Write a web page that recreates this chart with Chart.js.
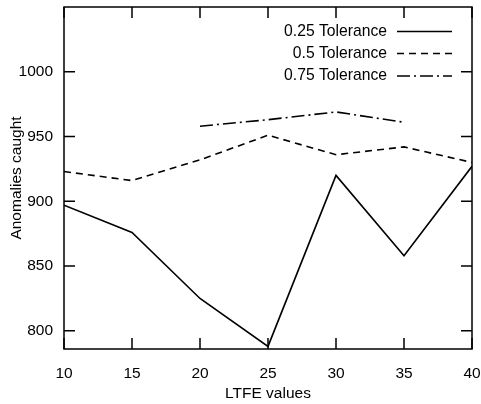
<!DOCTYPE html>
<html>
<head>
<meta charset="utf-8">
<script src="https://cdn.jsdelivr.net/npm/chart.js@4/dist/chart.umd.min.js"></script>
<style>
  html, body { margin: 0; padding: 0; background: #fff; }
  #wrap { width: 481px; height: 404px; }
</style>
</head>
<body>
<div id="wrap"><canvas id="chart" width="481" height="404"></canvas></div>
<script>
// LTFE values on the x axis
const ltfe = [10, 15, 20, 25, 30, 35, 40];
const ltfeShort = [20, 25, 30, 35];

// anomalies caught per tolerance
const tol025 = [897, 876, 825, 788, 920, 858, 927];
const tol050 = [923, 916, 932, 951, 936, 942, 930];
const tol075 = [958, 963, 969, 961];

const xTicks = [10, 15, 20, 25, 30, 35, 40];
const yTicks = [800, 850, 900, 950, 1000];

const FONT = '"Liberation Sans", Arial, Helvetica, sans-serif';
const SIZE = 15.5;

function pts(xs, ys) {
  return xs.map((x, i) => ({ x: x, y: ys[i] }));
}

// no extra room for overhanging tick labels, the box is fixed by layout padding
function noPad(s) {
  s.paddingLeft = 0; s.paddingRight = 0; s.paddingTop = 0; s.paddingBottom = 0;
}

// frame, inward ticks on all four sides, and the legend in the top-right corner
const framePlugin = {
  id: 'frame',
  afterDraw(chart) {
    const ctx = chart.ctx;
    const a = chart.chartArea;
    const xs = chart.scales.x, ys = chart.scales.y;
    const tl = 11;
    ctx.save();
    ctx.strokeStyle = '#000';
    ctx.lineWidth = 1.5;
    ctx.setLineDash([]);
    ctx.strokeRect(a.left, a.top, a.right - a.left, a.bottom - a.top);
    ctx.beginPath();
    xTicks.forEach(v => {
      const px = xs.getPixelForValue(v);
      ctx.moveTo(px, a.bottom); ctx.lineTo(px, a.bottom - tl);
      ctx.moveTo(px, a.top); ctx.lineTo(px, a.top + tl);
    });
    yTicks.forEach(v => {
      const py = ys.getPixelForValue(v);
      ctx.moveTo(a.left, py); ctx.lineTo(a.left + tl, py);
      ctx.moveTo(a.right, py); ctx.lineTo(a.right - tl, py);
    });
    ctx.stroke();

    // legend
    ctx.font = '15.7px ' + FONT;
    ctx.fillStyle = '#000';
    ctx.textAlign = 'right';
    ctx.textBaseline = 'middle';
    const rows = [31.5, 53.5, 76];
    chart.data.datasets.forEach((ds, i) => {
      const y = rows[i];
      ctx.fillText(ds.label, 387, y);
      ctx.beginPath();
      ctx.setLineDash(ds.borderDash || []);
      ctx.lineWidth = ds.borderWidth;
      ctx.moveTo(397, y);
      ctx.lineTo(452, y);
      ctx.stroke();
    });
    ctx.restore();
  }
};

new Chart(document.getElementById('chart'), {
  type: 'line',
  data: {
    datasets: [
      {
        label: '0.25 Tolerance',
        data: pts(ltfe, tol025),
        borderColor: '#000',
        borderWidth: 1.6,
        pointRadius: 0,
        tension: 0
      },
      {
        label: '0.5 Tolerance',
        data: pts(ltfe, tol050),
        borderColor: '#000',
        borderWidth: 1.6,
        borderDash: [7, 5],
        pointRadius: 0,
        tension: 0
      },
      {
        label: '0.75 Tolerance',
        data: pts(ltfeShort, tol075),
        borderColor: '#000',
        borderWidth: 1.6,
        borderDash: [13, 4, 2, 4],
        pointRadius: 0,
        tension: 0
      }
    ]
  },
  options: {
    responsive: false,
    animation: false,
    layout: { padding: { top: 7, right: 9, left: 0, bottom: 0 } },
    plugins: {
      legend: { display: false },
      tooltip: { enabled: false }
    },
    scales: {
      x: {
        type: 'linear',
        min: 10,
        max: 40,
        afterBuildTicks: s => { s.ticks = xTicks.map(v => ({ value: v })); },
        afterFit: s => { s.height = 55; noPad(s); },
        grid: { display: false, drawTicks: false },
        border: { display: false },
        ticks: { color: '#000', font: { family: FONT, size: SIZE }, padding: 15, maxRotation: 0,
                 callback: v => String(v) },
        title: {
          display: true,
          text: 'LTFE values',
          color: '#000',
          font: { family: FONT, size: SIZE },
          padding: { top: 0, bottom: 1 }
        }
      },
      y: {
        min: 786,
        max: 1050,
        afterBuildTicks: s => { s.ticks = yTicks.map(v => ({ value: v })); },
        afterFit: s => { s.width = 64; noPad(s); },
        grid: { display: false, drawTicks: false },
        border: { display: false },
        ticks: { color: '#000', font: { family: FONT, size: SIZE }, padding: 11,
                 callback: v => String(v) },
        title: {
          display: true,
          text: 'Anomalies caught',
          color: '#000',
          font: { family: FONT, size: SIZE },
          padding: { top: 7.5, bottom: 0 }
        }
      }
    }
  },
  plugins: [framePlugin]
});
</script>
</body>
</html>
